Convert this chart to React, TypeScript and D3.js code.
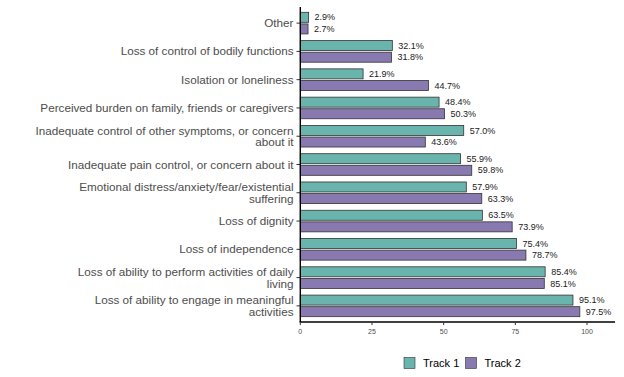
import React from "react";
import * as d3 from "d3";

const categories: string[][] = [
  ["Other"],
  ["Loss of control of bodily functions"],
  ["Isolation or loneliness"],
  ["Perceived burden on family, friends or caregivers"],
  ["Inadequate control of other symptoms, or concern", "about it"],
  ["Inadequate pain control, or concern about it"],
  ["Emotional distress/anxiety/fear/existential", "suffering"],
  ["Loss of dignity"],
  ["Loss of independence"],
  ["Loss of ability to perform activities of daily", "living"],
  ["Loss of ability to engage in meaningful", "activities"],
];
const track1: number[] = [2.9, 32.1, 21.9, 48.4, 57.0, 55.9, 57.9, 63.5, 75.4, 85.4, 95.1];
const track2: number[] = [2.7, 31.8, 44.7, 50.3, 43.6, 59.8, 63.3, 73.9, 78.7, 85.1, 97.5];
const seriesNames = ["Track 1", "Track 2"];
const xTicks = [0, 25, 50, 75, 100];

const colors = ["#6ab4ae", "#8879b0"];

export default function App() {
  const W = 624, H = 377;
  const x = d3.scaleLinear().domain([0, 100]).range([300.3, 587]);
  const plotTop = 7, plotBottom = 322;
  const y = d3
    .scaleBand<number>()
    .domain(d3.range(categories.length))
    .range([plotTop, plotBottom])
    .paddingInner(0)
    .paddingOuter(0.07);
  const step = y.step();
  const barH = 10;
  const gap = 0.8;
  const series = [track1, track2];
  const font = "Liberation Sans, Arial, sans-serif";

  return (
    <svg width={W} height={H} style={{ position: "absolute", left: 0, top: 0 }} fontFamily={font}>
      <rect width={W} height={H} fill="#fff" />
      {categories.map((lines, i) => {
        const cy = (y(i) as number) + step / 2;
        return (
          <g key={i}>
            {series.map((s, k) => {
              const top = k === 0 ? cy - gap - barH : cy + gap;
              return (
                <g key={k}>
                  <rect
                    x={x(0)}
                    y={top}
                    width={x(s[i]) - x(0)}
                    height={barH}
                    fill={colors[k]}
                    stroke="#333"
                    strokeWidth={0.8}
                  />
                  <text
                    x={x(s[i]) + 6}
                    y={top + barH / 2}
                    dy="0.35em"
                    fontSize={9}
                    fill="#1a1a1a"
                  >
                    {s[i].toFixed(1) + "%"}
                  </text>
                </g>
              );
            })}
            <line x1={296.5} x2={300} y1={cy} y2={cy} stroke="#333" strokeWidth={1} />
            <text textAnchor="end" fontSize={11.7} fill="#4d4d4d">
              {lines.map((ln, j) => (
                <tspan key={j} x={293.5} y={cy + (j - (lines.length - 1) / 2) * 11.6} dy="0.35em">
                  {ln}
                </tspan>
              ))}
            </text>
          </g>
        );
      })}
      <line x1={x(0)} x2={x(0)} y1={plotTop} y2={plotBottom} stroke="#000" strokeWidth={1.4} />
      <line x1={x(0) - 0.7} x2={615} y1={plotBottom} y2={plotBottom} stroke="#000" strokeWidth={1.4} />
      {xTicks.map((t) => (
        <g key={t}>
          <line x1={x(t)} x2={x(t)} y1={plotBottom} y2={plotBottom + 3} stroke="#333" strokeWidth={1} />
          <text x={x(t)} y={plotBottom + 10} dy="0.35em" textAnchor="middle" fontSize={7} fill="#4d4d4d">
            {t}
          </text>
        </g>
      ))}
      {seriesNames.map((n, k) => {
        const bx = k === 0 ? 404 : 465.5;
        return (
          <g key={n}>
            <rect x={bx} y={357.5} width={11} height={11} fill={colors[k]} stroke="#333" strokeWidth={0.6} />
            <text x={bx + 19} y={363} dy="0.35em" fontSize={11} fill="#000">
              {n}
            </text>
          </g>
        );
      })}
    </svg>
  );
}
